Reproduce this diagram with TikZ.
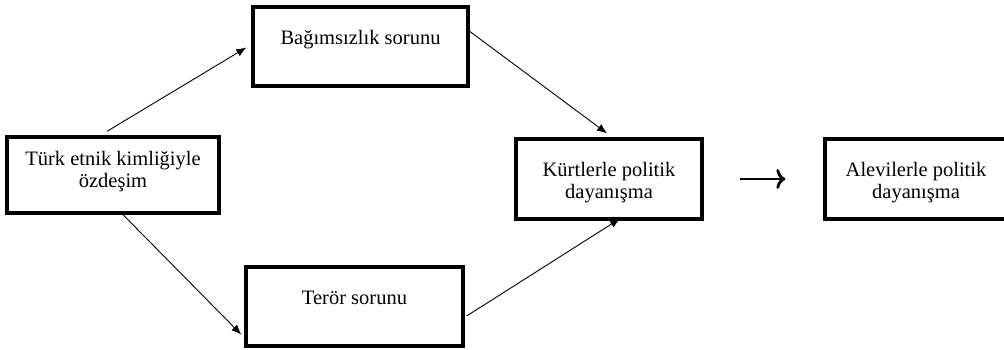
\documentclass[tikz,border=0pt]{standalone}
\usepackage{fontspec}
\setmainfont{Liberation Serif}
\usetikzlibrary{arrows.meta}
\def\arr{\draw[-{Latex[length=10pt,width=8pt]},line width=0.9pt]}

\begin{document}
\begin{tikzpicture}[x=1pt,y=1pt,
    kutu/.style={draw,line width=3.3pt,inner sep=0pt,anchor=base,align=center,
      font=\fontsize{20.5}{22.5}\selectfont},
    iki/.style={kutu,text height=60pt,text depth=20pt}]
\useasboundingbox (0,0) rectangle (1004,350);
\node[kutu,minimum width=212pt,text height=51pt,text depth=25pt] (turk) at (113,162) {Türk etnik kimliğiyle\\özdeşim};
\node[kutu,minimum width=215pt,text height=38pt,text depth=41pt] (bag) at (360.5,305) {Bağımsızlık sorunu};
\node[kutu,minimum width=217pt,text height=38pt,text depth=41pt] (teror) at (354.5,45) {Terör sorunu};
\node[iki,minimum width=186pt] (kurt) at (609,151) {Kürtlerle politik\\dayanışma};
\node[iki,minimum width=182pt] (alevi) at (916,151) {Alevilerle politik\\dayanışma};
\arr ([xshift=-6pt,yshift=4pt]turk.north) -- ([xshift=-5pt,yshift=-1pt]bag.west);
\arr ([xshift=7pt,yshift=3pt]turk.south) -- ([xshift=-3pt,yshift=13pt]teror.south west);
\arr ([yshift=-26pt]bag.north east) -- ([xshift=-2pt,yshift=4pt]kurt.north);
\arr ([xshift=2pt,yshift=-9.5pt]teror.east) -- ([xshift=11pt,yshift=2pt]kurt.south);
\draw[-{To[length=9pt,width=20pt]},line width=2.8pt,shorten <=36pt,shorten >=38pt] (kurt.east) -- (alevi.west);
\end{tikzpicture}
\end{document}
